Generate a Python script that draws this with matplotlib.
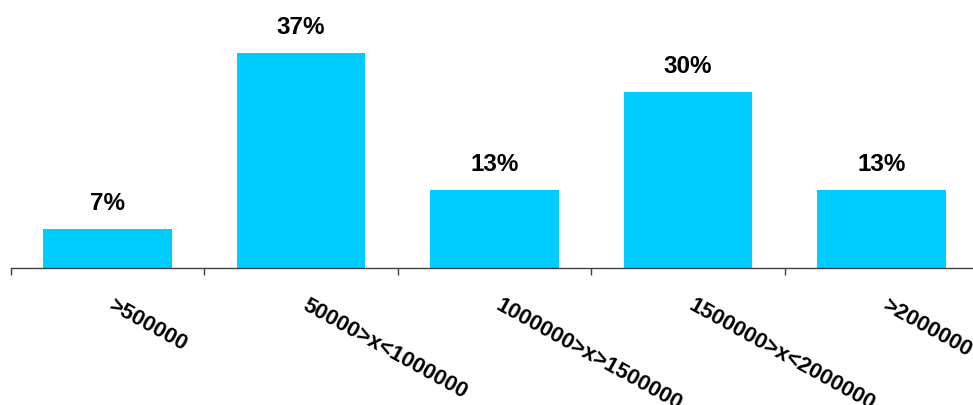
import numpy as np
import matplotlib.pyplot as plt
from matplotlib.transforms import blended_transform_factory

# responses per income band (out of 30)
categories = ['>500000', '50000>x<1000000', '1000000>x>1500000',
              '1500000>x<2000000', '>2000000']
counts = [2, 11, 4, 9, 4]
total = 30

shares = np.array(counts) / total
bar_color = '#00CCFF'

plt.rcParams['font.family'] = ['Liberation Sans', 'DejaVu Sans']

fig = plt.figure(figsize=(9.73, 4.05), dpi=100)
ax = fig.add_axes([10.75 / 973, 137 / 405, 967.5 / 973, 268 / 405])

x = np.arange(len(categories))
ax.bar(x, shares, width=0.665, color=bar_color)

for xi, s in zip(x, shares):
    ax.annotate(f'{s:.0%}', (xi, s), xytext=(0, 13.5), textcoords='offset points',
                ha='center', va='baseline', fontsize=17.5, fontweight='bold')

ax.set_xlim(-0.5, len(categories) - 0.5)
ax.set_ylim(0, 0.4566)

for side in ['left', 'top', 'right']:
    ax.spines[side].set_visible(False)
ax.spines['bottom'].set_color('#404040')
ax.spines['bottom'].set_linewidth(1.0)
ax.set_yticks([])
ax.set_xticks(np.arange(-0.5, len(categories), 1.0))
ax.set_xticklabels([])
ax.tick_params(axis='x', direction='out', length=5, width=1, color='#404040')

# slanted category labels, starting just right of each bar centre
trans = blended_transform_factory(ax.transData, ax.transAxes)
for xi, lab in zip(x, categories):
    ax.text(xi + 0.04, -0.1, lab, transform=trans, rotation=-29,
            rotation_mode='anchor', ha='left', va='top',
            fontsize=15.8, fontweight='bold', clip_on=False)

fig.savefig('out.png', dpi=100)
plt.close(fig)
